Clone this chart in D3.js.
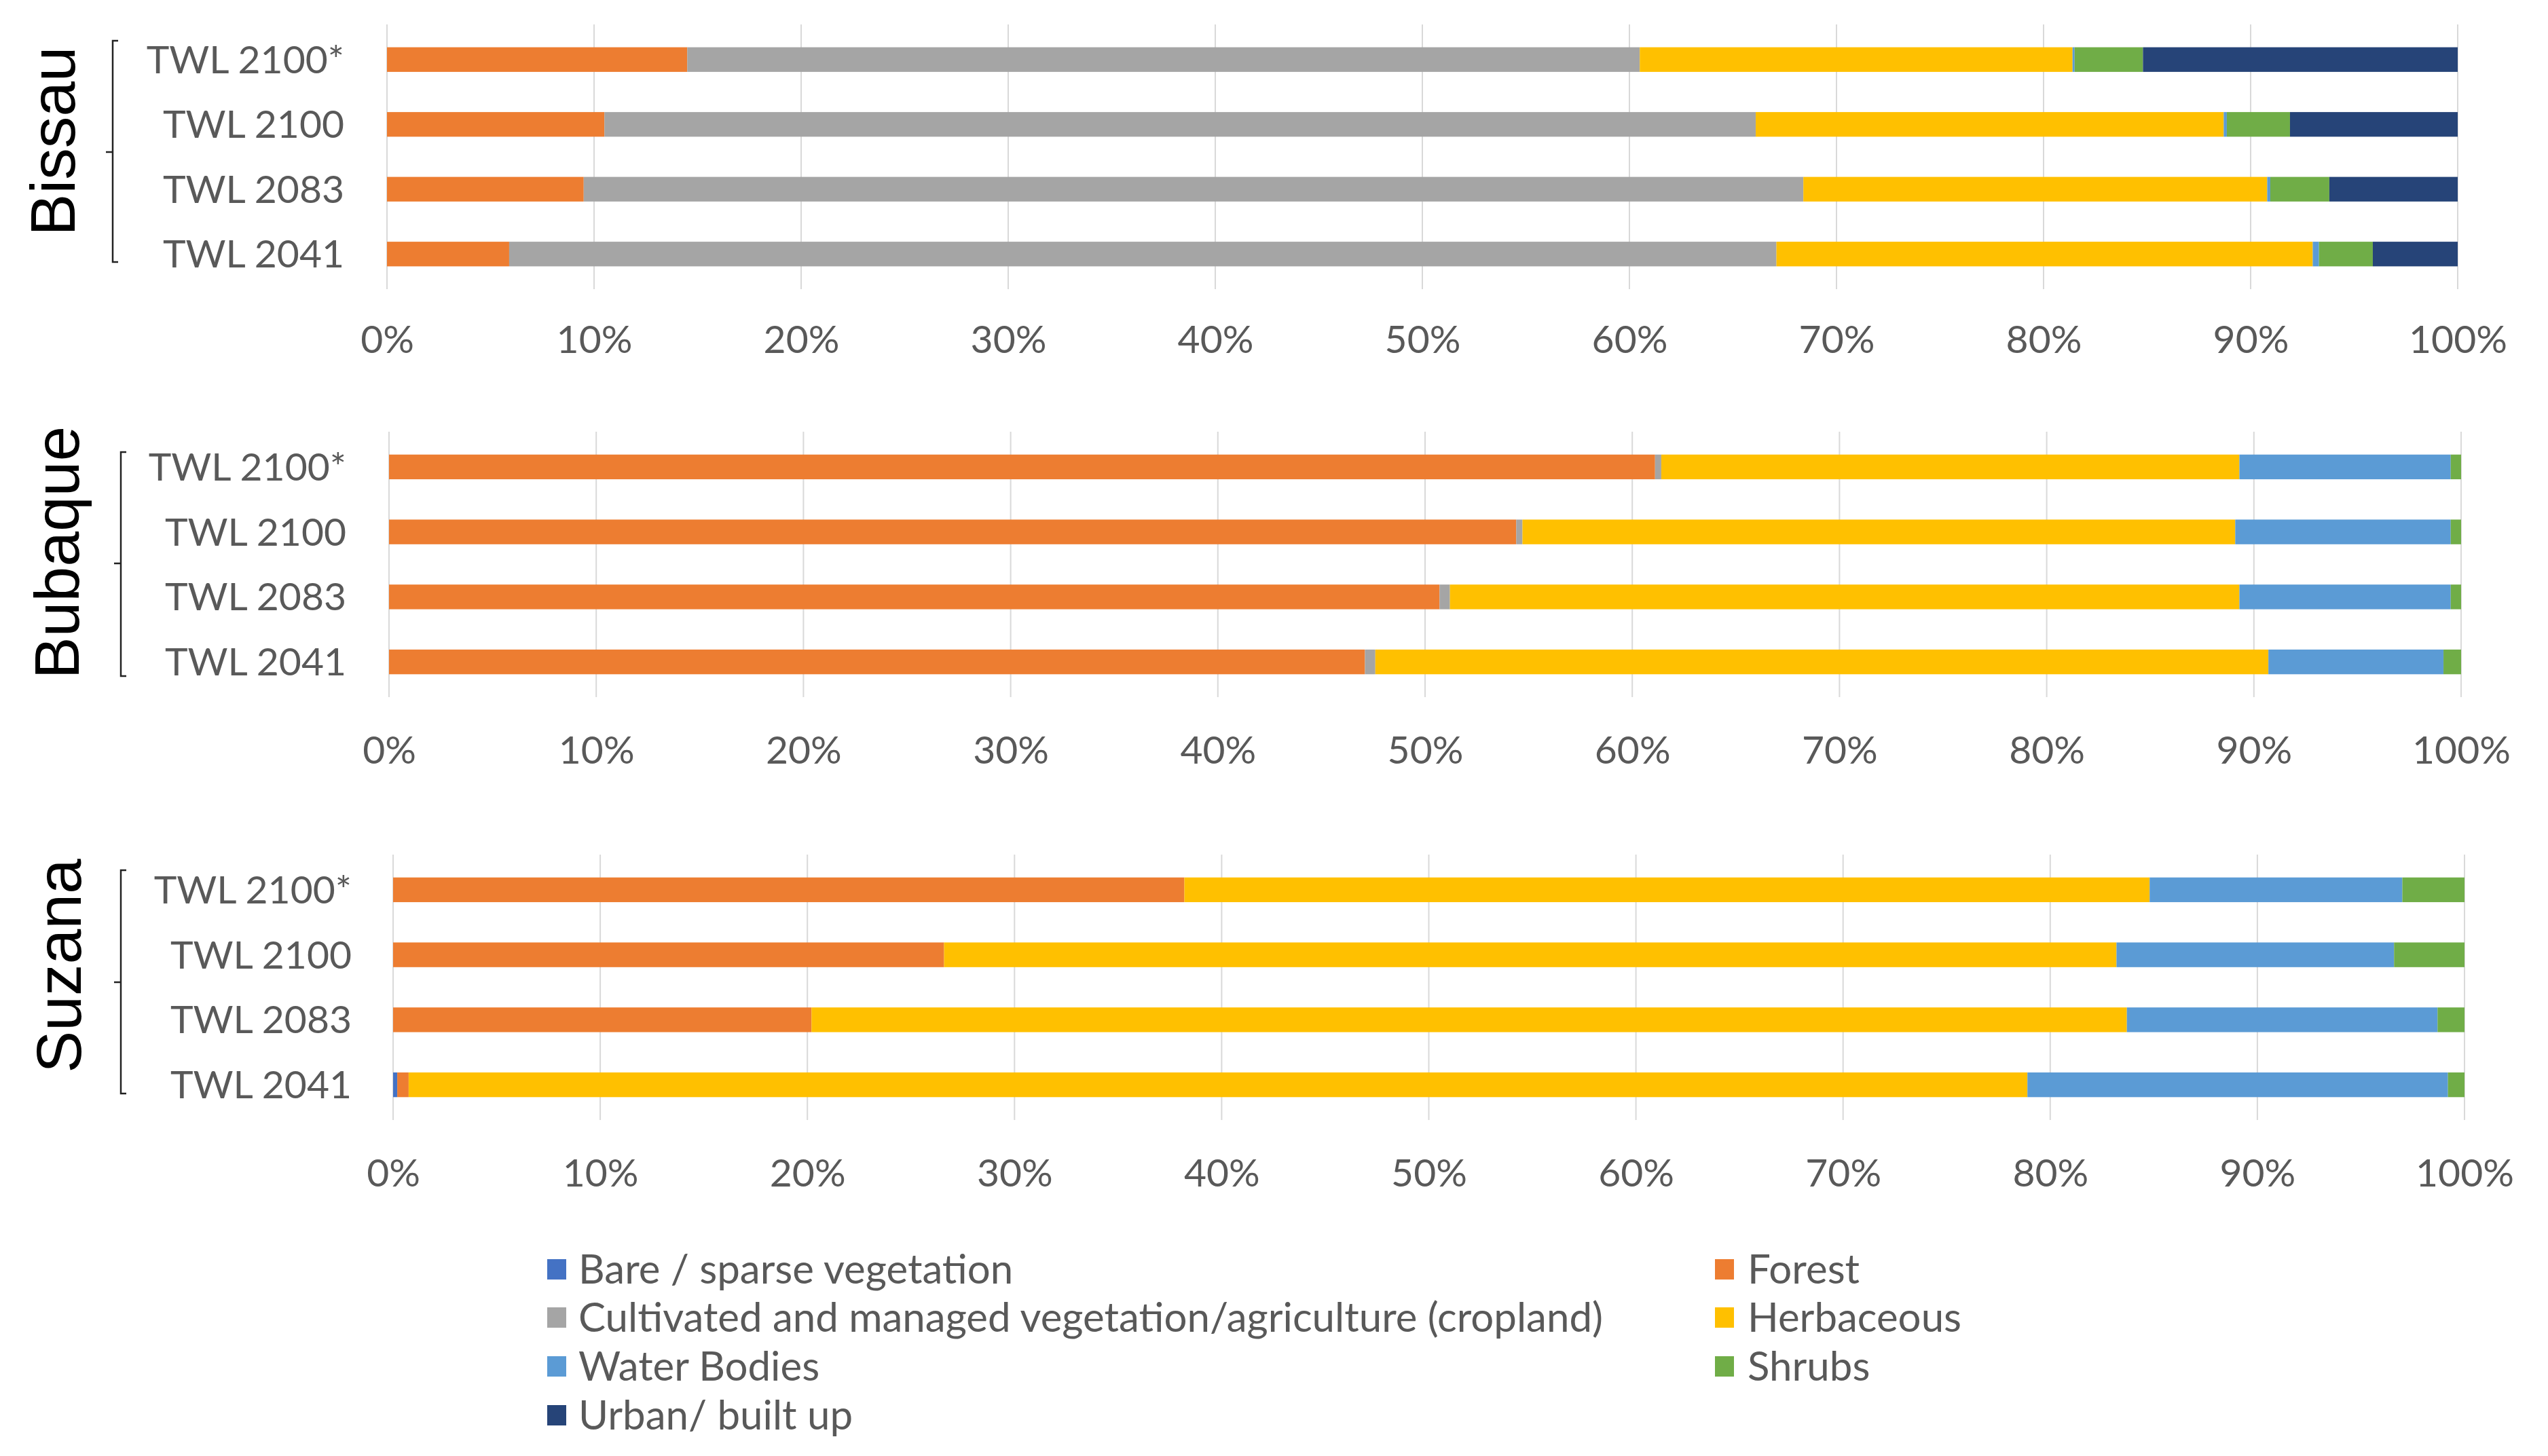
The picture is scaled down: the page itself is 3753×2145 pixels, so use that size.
<!DOCTYPE html>
<html>
<head>
<meta charset="utf-8">
<script src="https://cdn.jsdelivr.net/npm/d3@7/dist/d3.min.js"></script>
<style>
  html, body { margin: 0; padding: 0; background: #fff; }
  svg { display: block; }
</style>
</head>
<body>
<svg id="chart" width="3753" height="2145"></svg>
<script>
// ---------- DATA ----------
const categories = ["TWL 2100*", "TWL 2100", "TWL 2083", "TWL 2041"];
const sites = ["Bissau", "Bubaque", "Suzana"];
const landClasses = [
  "Bare / sparse vegetation",
  "Forest",
  "Cultivated and managed vegetation/agriculture (cropland)",
  "Herbaceous",
  "Water Bodies",
  "Shrubs",
  "Urban/ built up"
];
const classColors = ["#4472C4", "#ED7D31", "#A5A5A5", "#FFC000", "#5B9BD5", "#70AD47", "#264478"];
const tickValues = [0, 10, 20, 30, 40, 50, 60, 70, 80, 90, 100];

// Bissau (% per category, order as in categories)
const bissauBare       = [0, 0, 0, 0];
const bissauForest     = [14.5, 10.5, 9.5, 5.9];
const bissauCultivated = [46.0, 55.6, 58.9, 61.2];
const bissauHerbaceous = [20.9, 22.6, 22.4, 25.9];
const bissauWater      = [0.1, 0.15, 0.15, 0.3];
const bissauShrubs     = [3.3, 3.05, 2.85, 2.6];
const bissauUrban      = [15.2, 8.1, 6.2, 4.1];

// Bubaque
const bubaqueBare       = [0, 0, 0, 0];
const bubaqueForest     = [61.1, 54.4, 50.7, 47.1];
const bubaqueCultivated = [0.3, 0.3, 0.5, 0.5];
const bubaqueHerbaceous = [27.9, 34.4, 38.1, 43.1];
const bubaqueWater      = [10.2, 10.4, 10.2, 8.45];
const bubaqueShrubs     = [0.5, 0.5, 0.5, 0.85];
const bubaqueUrban      = [0, 0, 0, 0];

// Suzana
const suzanaBare       = [0, 0, 0, 0.2];
const suzanaForest     = [38.2, 26.6, 20.2, 0.55];
const suzanaCultivated = [0, 0, 0, 0];
const suzanaHerbaceous = [46.6, 56.6, 63.5, 78.15];
const suzanaWater      = [12.2, 13.4, 15.0, 20.3];
const suzanaShrubs     = [3.0, 3.4, 1.3, 0.8];
const suzanaUrban      = [0, 0, 0, 0];

const siteSeries = [
  [bissauBare, bissauForest, bissauCultivated, bissauHerbaceous, bissauWater, bissauShrubs, bissauUrban],
  [bubaqueBare, bubaqueForest, bubaqueCultivated, bubaqueHerbaceous, bubaqueWater, bubaqueShrubs, bubaqueUrban],
  [suzanaBare, suzanaForest, suzanaCultivated, suzanaHerbaceous, suzanaWater, suzanaShrubs, suzanaUrban]
];

// ---------- LAYOUT ----------
const panels = [
  { x0: 570, x1: 3620, y0: 40,   y1: 422,  tickY: 500,  labelX: 507, titleX: 110, titleY: 208,  br: { x: 166, top: 60,   bot: 386,  mid: 224 } },
  { x0: 573, x1: 3625, y0: 640,  y1: 1023, tickY: 1105, labelX: 510, titleX: 116, titleY: 814,  br: { x: 178, top: 666,  bot: 996,  mid: 830 } },
  { x0: 579, x1: 3630, y0: 1263, y1: 1646, tickY: 1728, labelX: 518, titleX: 119, titleY: 1423, br: { x: 178, top: 1282, bot: 1611, mid: 1447 } }
];

const svg = d3.select("#chart");
const labelFont = "Lato, 'Open Sans', sans-serif";
const textGray = "#595959";

panels.forEach((p, si) => {
  const g = svg.append("g");
  const x = d3.scaleLinear().domain([0, 100]).range([p.x0, p.x1]);
  const y = d3.scaleBand().domain(categories).range([p.y0, p.y1])
    .paddingInner(0.62).paddingOuter(0.31);

  // gridlines
  g.append("g").selectAll("line").data(tickValues).join("line")
    .attr("x1", d => x(d)).attr("x2", d => x(d))
    .attr("y1", p.y0 - 4).attr("y2", p.y1 + 4)
    .attr("stroke", "#d9d9d9").attr("stroke-width", 2);

  // table rows
  const rows = categories.map((c, i) => {
    const r = { category: c };
    landClasses.forEach((lc, k) => { r[lc] = siteSeries[si][k][i]; });
    return r;
  });
  const stacked = d3.stack().keys(landClasses)(rows);

  g.append("g").selectAll("g").data(stacked).join("g")
    .attr("fill", (d, k) => classColors[k])
    .selectAll("rect").data(d => d).join("rect")
    .attr("x", d => x(d[0]))
    .attr("width", d => Math.max(0, x(d[1]) - x(d[0])))
    .attr("y", d => y(d.data.category))
    .attr("height", y.bandwidth());

  // x axis tick labels
  const xAxis = d3.axisBottom(x).tickValues(tickValues).tickFormat(d => d + "%").tickSize(0);
  const ax = g.append("g").attr("transform", `translate(0,${p.tickY})`).call(xAxis);
  ax.select(".domain").remove();
  ax.selectAll("text")
    .attr("dy", "0.35em").attr("y", 0)
    .attr("fill", textGray)
    .style("font-family", labelFont).style("font-size", "57px");

  // category labels
  const yAxis = d3.axisLeft(y).tickSize(0);
  const ay = g.append("g").attr("transform", `translate(${p.labelX},0)`).call(yAxis);
  ay.select(".domain").remove();
  ay.selectAll("text")
    .attr("x", 0).attr("dy", "0.35em")
    .attr("fill", textGray)
    .style("font-family", labelFont).style("font-size", "57px");

  // bracket
  const b = p.br;
  g.append("path")
    .attr("d", `M${b.x + 8},${b.top} H${b.x} V${b.bot} H${b.x + 8} M${b.x},${b.mid} H${b.x - 10}`)
    .attr("fill", "none").attr("stroke", "#222").attr("stroke-width", 2.5);

  // site title
  g.append("text")
    .attr("transform", `translate(${p.titleX},${p.titleY}) rotate(-90)`)
    .attr("text-anchor", "middle")
    .style("font-family", "'Liberation Sans', Arial, sans-serif")
    .style("font-size", "93px")
    .attr("fill", "#000")
    .text(sites[si]);
});

// ---------- LEGEND ----------
const legendCols = [{ sq: 806, tx: 852 }, { sq: 2526, tx: 2574 }];
const legendRows = [1870, 1941, 2013, 2085];
const legendItems = landClasses.map((lc, k) => ({
  label: lc, color: classColors[k], col: k % 2, row: Math.floor(k / 2)
}));
const lg = svg.append("g").selectAll("g").data(legendItems).join("g")
  .attr("transform", d => `translate(0,${legendRows[d.row]})`);
lg.append("rect")
  .attr("x", d => legendCols[d.col].sq).attr("y", -15)
  .attr("width", 28).attr("height", 30)
  .attr("fill", d => d.color);
lg.append("text")
  .attr("x", d => legendCols[d.col].tx).attr("dy", "0.35em")
  .attr("fill", textGray)
  .style("font-family", labelFont).style("font-size", "60px")
  .text(d => d.label);
</script>
</body>
</html>
